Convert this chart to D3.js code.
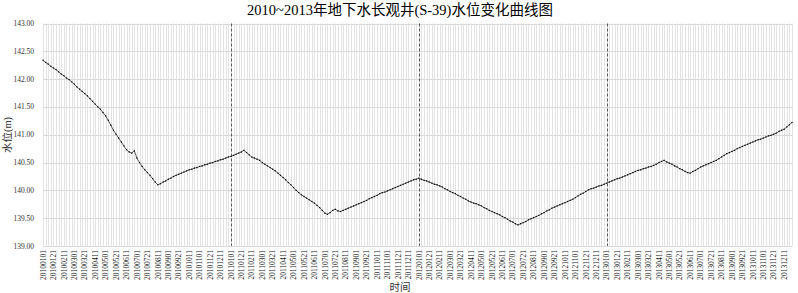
<!DOCTYPE html>
<html lang="zh">
<head>
<meta charset="UTF-8">
<title>S-39 水位变化曲线图</title>
<script src="https://d3js.org/d3.v7.min.js"></script>
<style>
    body { margin: 0; background: #fff; }
    svg { display: block; }
    .tick-y { font-family: "Liberation Serif", "Times New Roman", serif; font-size: 7.5px; fill: #333; }
    .tick-x { font-family: "Liberation Serif", "Times New Roman", serif; font-size: 7.5px; fill: #222; }
    .title { font-family: "Liberation Serif", "Noto Sans CJK SC", serif; font-size: 14.5px; fill: #000; }
    .axis-title { font-family: "Liberation Serif", "Noto Sans CJK SC", serif; font-size: 10.5px; fill: #333; }
</style>
</head>
<body>
<svg width="798" height="293"></svg>
<script>
// observation schedule: every 5 days, 6 readings a month
const years = [2010, 2011, 2012, 2013];
const months = ['01','02','03','04','05','06','07','08','09','10','11','12'];
const days = ['01','06','11','16','21','26'];

// water level (m), one array per year, 72 readings each
const level2010 = [
    142.34, 142.30, 142.27, 142.23, 142.20, 142.17, 142.13, 142.09, 142.06, 142.02, 141.99, 141.95,
    141.91, 141.86, 141.82, 141.78, 141.74, 141.70, 141.65, 141.60, 141.55, 141.50, 141.46, 141.40,
    141.34, 141.26, 141.17, 141.08, 141.01, 140.94, 140.87, 140.80, 140.73, 140.69, 140.67, 140.71,
    140.58, 140.50, 140.43, 140.37, 140.32, 140.27, 140.21, 140.15, 140.10, 140.12, 140.15, 140.17,
    140.20, 140.22, 140.25, 140.27, 140.29, 140.31, 140.33, 140.35, 140.37, 140.38, 140.40, 140.41,
    140.43, 140.44, 140.46, 140.47, 140.49, 140.50, 140.52, 140.53, 140.55, 140.56, 140.58, 140.60
];
const level2011 = [
    140.61, 140.63, 140.65, 140.67, 140.69, 140.72, 140.68, 140.64, 140.60, 140.58, 140.56, 140.54,
    140.50, 140.47, 140.44, 140.41, 140.38, 140.35, 140.31, 140.27, 140.23, 140.19, 140.14, 140.10,
    140.05, 140.00, 139.96, 139.92, 139.89, 139.86, 139.83, 139.80, 139.77, 139.73, 139.69, 139.64,
    139.59, 139.57, 139.60, 139.64, 139.66, 139.63, 139.62, 139.64, 139.66, 139.68, 139.70, 139.72,
    139.74, 139.76, 139.78, 139.80, 139.82, 139.85, 139.87, 139.89, 139.91, 139.94, 139.96, 139.97,
    139.99, 140.01, 140.03, 140.05, 140.07, 140.09, 140.11, 140.13, 140.15, 140.17, 140.19, 140.20
];
const level2012 = [
    140.22, 140.20, 140.18, 140.17, 140.15, 140.13, 140.11, 140.10, 140.08, 140.06, 140.03, 140.01,
    139.98, 139.96, 139.94, 139.91, 139.89, 139.86, 139.84, 139.81, 139.79, 139.77, 139.76, 139.74,
    139.72, 139.69, 139.67, 139.64, 139.62, 139.60, 139.58, 139.56, 139.53, 139.51, 139.48, 139.45,
    139.43, 139.40, 139.38, 139.40, 139.42, 139.44, 139.47, 139.49, 139.51, 139.53, 139.55, 139.58,
    139.60, 139.63, 139.65, 139.68, 139.70, 139.72, 139.74, 139.76, 139.78, 139.80, 139.82, 139.84,
    139.87, 139.90, 139.93, 139.95, 139.98, 140.01, 140.03, 140.04, 140.06, 140.08, 140.09, 140.11
];
const level2013 = [
    140.13, 140.15, 140.17, 140.19, 140.21, 140.22, 140.24, 140.26, 140.28, 140.30, 140.32, 140.34,
    140.36, 140.37, 140.39, 140.40, 140.42, 140.43, 140.45, 140.47, 140.50, 140.52, 140.54, 140.51,
    140.49, 140.47, 140.44, 140.42, 140.39, 140.37, 140.34, 140.32, 140.31, 140.34, 140.36, 140.39,
    140.42, 140.44, 140.46, 140.48, 140.50, 140.52, 140.54, 140.57, 140.60, 140.63, 140.66, 140.68,
    140.70, 140.72, 140.75, 140.77, 140.79, 140.81, 140.83, 140.85, 140.87, 140.89, 140.91, 140.92,
    140.94, 140.96, 140.98, 140.99, 141.01, 141.03, 141.06, 141.08, 141.10, 141.14, 141.18, 141.22
];

const yTicks = [139.0, 139.5, 140.0, 140.5, 141.0, 141.5, 142.0, 142.5, 143.0];
const yearBreaks = ['20110101', '20120101', '20130101'];

const dates = [];
years.forEach(y => months.forEach(m => days.forEach(d => dates.push(`${y}${m}${d}`))));
const levels = [].concat(level2010, level2011, level2012, level2013);
const data = dates.map((d, i) => ({ date: d, value: levels[i] }));

const svg = d3.select("svg");
const plotLeft = 43, plotRight = 792, plotTop = 23.5, plotBottom = 246;

const x = d3.scalePoint().domain(dates).range([plotLeft, plotRight]);
const y = d3.scaleLinear().domain([139, 143]).range([plotBottom, plotTop]);

// title
svg.append("text")
    .attr("class", "title")
    .attr("x", 400).attr("y", 15)
    .attr("text-anchor", "middle")
    .text("2010~2013年地下水长观井(S-39)水位变化曲线图");

// vertical grid, one per reading
svg.append("g")
    .selectAll("line")
    .data(dates)
    .enter().append("line")
    .attr("x1", d => Math.round(x(d)) + 0.5).attr("x2", d => Math.round(x(d)) + 0.5)
    .attr("y1", plotTop).attr("y2", plotBottom)
    .attr("stroke", "#e3e3e3")
    .attr("stroke-width", 1);

// horizontal grid
svg.append("g")
    .selectAll("line")
    .data(yTicks)
    .enter().append("line")
    .attr("x1", plotLeft).attr("x2", plotRight)
    .attr("y1", d => Math.round(y(d)) + 0.5).attr("y2", d => Math.round(y(d)) + 0.5)
    .attr("stroke", "#d9d9d9");

// y tick labels
svg.append("g")
    .selectAll("text")
    .data(yTicks)
    .enter().append("text")
    .attr("class", "tick-y")
    .attr("x", 34).attr("y", d => y(d) + 2.5)
    .attr("text-anchor", "end")
    .text(d => d.toFixed(2));

// x tick labels, every 4th reading
const labelDates = dates.filter((d, i) => i % 4 === 0);
svg.append("g")
    .selectAll("text")
    .data(labelDates)
    .enter().append("text")
    .attr("class", "tick-x")
    .attr("transform", d => `translate(${x(d) + 2.7},250) rotate(-90)`)
    .attr("text-anchor", "end")
    .text(d => d);

// year separators
svg.append("g")
    .selectAll("line")
    .data(yearBreaks)
    .enter().append("line")
    .attr("x1", d => Math.round(x(d)) + 0.5).attr("x2", d => Math.round(x(d)) + 0.5)
    .attr("y1", plotTop).attr("y2", plotBottom)
    .attr("stroke", "#595959")
    .attr("stroke-width", 1)
    .attr("stroke-dasharray", "3,2");

// water level line
const line = d3.line()
    .x(d => x(d.date))
    .y(d => y(d.value));

svg.append("path")
    .datum(data)
    .attr("fill", "none")
    .attr("stroke", "#333")
    .attr("stroke-width", 0.8)
    .attr("d", line);

svg.append("g")
    .selectAll("rect")
    .data(data)
    .enter().append("rect")
    .attr("x", d => x(d.date) - 0.6)
    .attr("y", d => y(d.value) - 0.6)
    .attr("width", 1.2).attr("height", 1.2)
    .attr("fill", "#000");

// axis titles
svg.append("text")
    .attr("class", "axis-title")
    .attr("transform", "translate(11,135) rotate(-90)")
    .attr("text-anchor", "middle")
    .text("水位(m)");

svg.append("text")
    .attr("class", "axis-title")
    .attr("x", 400).attr("y", 291)
    .attr("text-anchor", "middle")
    .text("时间");
</script>
</body>
</html>
